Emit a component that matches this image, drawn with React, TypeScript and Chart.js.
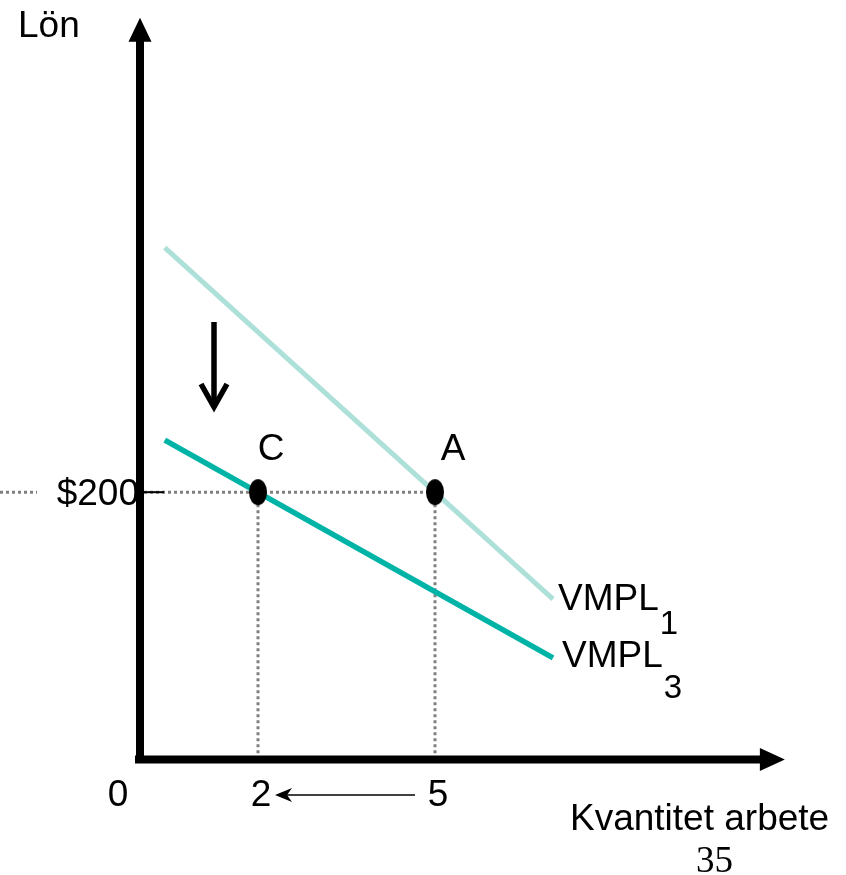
import React, { useEffect, useRef } from "react";
import { Chart, registerables } from "chart.js";

Chart.register(...registerables);

// ---- data ----
const vmpl1X = [0.42, 7.0];
const vmpl1Y = [383, 120];
const vmpl3X = [0.42, 7.0];
const vmpl3Y = [239, 76];
const pointLabels = ["C", "A"];
const pointX = [2, 5];
const pointY = [200, 200];
const xTickValues = [0, 2, 5];
const xTickLabels = ["0", "2", "5"];
const yTickValue = 200;
const yTickLabel = "$200";
const curveNames = ["VMPL", "VMPL"];
const curveSubs = ["1", "3"];
const xAxisTitle = "Kvantitet arbete";
const yAxisTitle = "Lön";
const slideNumber = "35";

const SANS = '"Liberation Sans", Arial, sans-serif';
const SERIF = '"Liberation Serif", "Times New Roman", serif';
const LIGHT = "#aee0da";
const DARK = "#00b3a7";
const FS = 37;

export default function App() {
  const ref = useRef<HTMLCanvasElement | null>(null);

  useEffect(() => {
    if (!ref.current) return;
    const dot = document.createElement("canvas");
    dot.width = 20;
    dot.height = 28;
    const dctx = dot.getContext("2d")!;
    dctx.fillStyle = "#000";
    dctx.beginPath();
    dctx.ellipse(10, 14, 9, 13, 0, 0, Math.PI * 2);
    dctx.fill();

    const decor = {
      id: "decor",
      beforeDatasetsDraw(chart: any) {
        const ctx = chart.ctx;
        const xs = chart.scales.x;
        const ys = chart.scales.y;
        const x0 = xs.getPixelForValue(0);
        const y0 = ys.getPixelForValue(0);
        const yv = ys.getPixelForValue(yTickValue);
        ctx.save();
        ctx.strokeStyle = "#808080";
        ctx.lineWidth = 3;
        ctx.setLineDash([3, 3]);
        ctx.beginPath();
        ctx.moveTo(0, yv);
        ctx.lineTo(37, yv);
        ctx.moveTo(x0 + 4, yv);
        ctx.lineTo(xs.getPixelForValue(Math.max(...pointX)), yv);
        pointX.forEach((px) => {
          const p = xs.getPixelForValue(px);
          ctx.moveTo(p, yv);
          ctx.lineTo(p, y0);
        });
        ctx.stroke();
        ctx.restore();
      },
      afterDatasetsDraw(chart: any) {
        const ctx = chart.ctx;
        const xs = chart.scales.x;
        const ys = chart.scales.y;
        const x0 = xs.getPixelForValue(0);
        const y0 = ys.getPixelForValue(0);
        const yv = ys.getPixelForValue(yTickValue);
        ctx.save();
        ctx.fillStyle = "#000";
        ctx.font = `${FS}px ${SANS}`;
        // y tick label
        ctx.textAlign = "right";
        ctx.textBaseline = "alphabetic";
        ctx.fillText(yTickLabel, x0 - 1, yv + 13);
        // tick mark
        ctx.strokeStyle = "#000";
        ctx.lineWidth = 2;
        ctx.beginPath();
        ctx.moveTo(x0, yv);
        ctx.lineTo(x0 + 24, yv);
        ctx.stroke();
        // axes
        const yTip = ys.getPixelForValue(555);
        const xTip = xs.getPixelForValue(10.93);
        ctx.lineWidth = 8;
        ctx.lineCap = "butt";
        ctx.beginPath();
        ctx.moveTo(x0, y0 + 4);
        ctx.lineTo(x0, yTip + 20);
        ctx.moveTo(x0 - 5, y0);
        ctx.lineTo(xTip - 20, y0);
        ctx.stroke();
        ctx.beginPath();
        ctx.moveTo(x0, yTip);
        ctx.lineTo(x0 - 11.5, yTip + 24);
        ctx.lineTo(x0 + 11.5, yTip + 24);
        ctx.closePath();
        ctx.moveTo(xTip, y0);
        ctx.lineTo(xTip - 25, y0 - 11.5);
        ctx.lineTo(xTip - 25, y0 + 11.5);
        ctx.closePath();
        ctx.fill();
        // x tick labels
        ctx.textAlign = "center";
        xTickValues.forEach((v, i) => {
          const px = xs.getPixelForValue(v) + (v === 0 ? -22 : 3);
          ctx.fillText(xTickLabels[i], px, y0 + 46);
        });
        // arrow from 5 to 2
        const ax1 = xs.getPixelForValue(xTickValues[2]) - 20;
        const ax2 = xs.getPixelForValue(xTickValues[1]) + 17;
        const ay = y0 + 35.5;
        ctx.lineWidth = 1.6;
        ctx.beginPath();
        ctx.moveTo(ax1, ay);
        ctx.lineTo(ax2 + 10, ay);
        ctx.stroke();
        ctx.beginPath();
        ctx.moveTo(ax2, ay);
        ctx.lineTo(ax2 + 17, ay - 7);
        ctx.lineTo(ax2 + 12, ay);
        ctx.lineTo(ax2 + 17, ay + 7);
        ctx.closePath();
        ctx.fill();
        // point labels
        ctx.textAlign = "center";
        pointLabels.forEach((t, i) => {
          const px = xs.getPixelForValue(pointX[i]);
          const py = ys.getPixelForValue(pointY[i]);
          ctx.fillText(t, px + (i === 0 ? 13 : 18), py - 32);
        });
        // curve labels
        ctx.textAlign = "left";
        const ends = [
          [vmpl1X[1], vmpl1Y[1], 5, 11, 24],
          [vmpl3X[1], vmpl3Y[1], 9, 9, 31],
        ];
        ends.forEach((e, i) => {
          const ex = xs.getPixelForValue(e[0]);
          const ey = ys.getPixelForValue(e[1]);
          ctx.font = `${FS}px ${SANS}`;
          const tx = ex + e[2];
          const ty = ey + e[3];
          ctx.fillText(curveNames[i], tx, ty);
          const w = ctx.measureText(curveNames[i]).width;
          ctx.font = `33px ${SANS}`;
          ctx.fillText(curveSubs[i], tx + w + 1, ty + e[4]);
        });
        // axis titles
        ctx.font = `${FS}px ${SANS}`;
        ctx.fillText(yAxisTitle, 18, 37);
        ctx.fillText(xAxisTitle, 570, 830);
        ctx.font = `37px ${SERIF}`;
        ctx.fillText(slideNumber, 696, 872);
        // down arrow
        const dx = 214;
        ctx.lineWidth = 5.5;
        ctx.lineJoin = "miter";
        ctx.beginPath();
        ctx.moveTo(dx, 322);
        ctx.lineTo(dx, 406);
        ctx.stroke();
        ctx.beginPath();
        ctx.moveTo(dx - 13, 384);
        ctx.lineTo(dx, 407);
        ctx.lineTo(dx + 13, 384);
        ctx.stroke();
        ctx.restore();
      },
    };

    const chart = new Chart(ref.current, {
      type: "scatter",
      data: {
        datasets: [
          {
            label: "VMPL1",
            data: vmpl1X.map((x, i) => ({ x, y: vmpl1Y[i] })),
            showLine: true,
            borderColor: LIGHT,
            borderWidth: 5,
            pointRadius: 0,
            borderCapStyle: "butt",
            order: 2,
          },
          {
            label: "VMPL3",
            data: vmpl3X.map((x, i) => ({ x, y: vmpl3Y[i] })),
            showLine: true,
            borderColor: DARK,
            borderWidth: 5.5,
            pointRadius: 0,
            borderCapStyle: "butt",
            order: 1,
          },
          {
            label: "points",
            data: pointX.map((x, i) => ({ x, y: pointY[i] })),
            showLine: false,
            pointStyle: dot as any,
            pointRadius: 10,
            order: 0,
          },
        ],
      },
      options: {
        animation: false,
        responsive: false,
        devicePixelRatio: 1,
        layout: { padding: { left: 140, right: 57, top: 5, bottom: 115.5 } },
        scales: {
          x: { type: "linear", min: 0, max: 11, display: false },
          y: { type: "linear", min: 0, max: 560, display: false },
        },
        plugins: {
          legend: { display: false },
          tooltip: { enabled: false },
        },
      },
      plugins: [decor],
    } as any);
    return () => chart.destroy();
  }, []);

  return (
    <div style={{ position: "absolute", left: 0, top: 0, width: 846, height: 875, background: "#fff" }}>
      <canvas ref={ref} width={846} height={875} style={{ display: "block" }} />
    </div>
  );
}
